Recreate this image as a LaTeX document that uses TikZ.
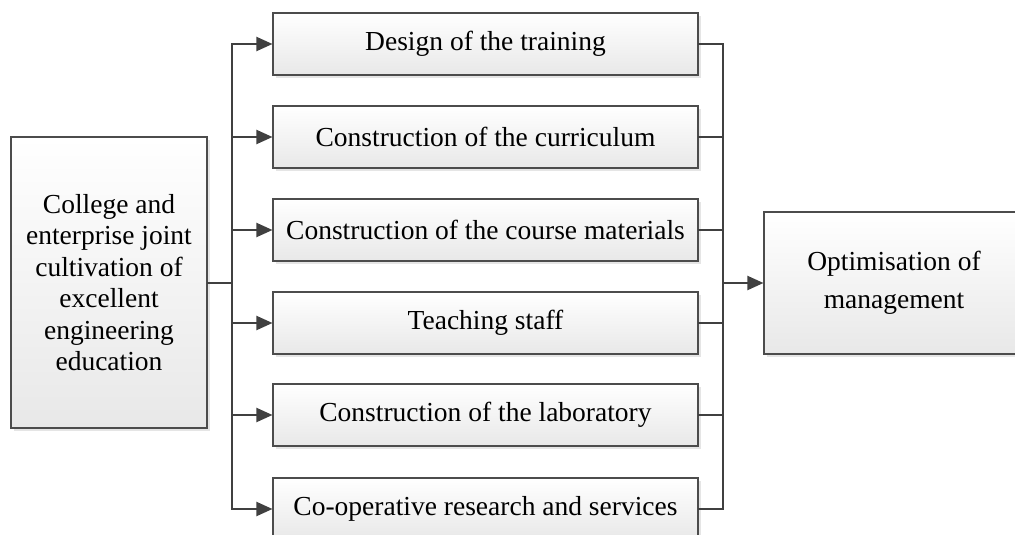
\documentclass[tikz,border=0pt]{standalone}
\usepackage{fontspec}
\setmainfont{Liberation Serif}
\usetikzlibrary{arrows.meta,shadows}
\begin{document}
\begin{tikzpicture}[x=1pt,y=-1pt,
  box/.style={draw=black!70, line width=1.1pt, top color=white, bottom color=black!9,
    drop shadow={shadow xshift=3pt,shadow yshift=-3pt,fill=black!20,opacity=0.5},
    inner sep=0pt, align=center, font=\fontsize{27.5}{31.5}\selectfont},
  midbox/.style={box, minimum width=425pt, minimum height=62pt},
  conn/.style={draw=black!75, line width=2pt, line cap=rect},
  arr/.style={conn, -{Triangle[length=16pt,width=14pt]}}
]
\useasboundingbox (0,0) rectangle (1015,535);
\node[box, minimum width=196pt, minimum height=291pt] (L) at (109,282.5)
  {College and\\enterprise joint\\cultivation of\\excellent\\engineering\\education};
\node[midbox] (b1) at (485.5,44) {Design of the training};
\node[midbox] (b2) at (485.5,137) {Construction of the curriculum};
\node[midbox] (b3) at (485.5,230) {Construction of the course materials};
\node[midbox] (b4) at (485.5,323) {Teaching staff};
\node[midbox] (b5) at (485.5,415) {Construction of the laboratory};
\node[midbox] (b6) at (485.5,509) {Co-operative research and services};
\node[box, minimum width=260pt, minimum height=142pt, font=\fontsize{27.5}{37.5}\selectfont] (R) at (894,283)
  {Optimisation of\\management};
\coordinate (lt) at (232,44);
\coordinate (lb) at (232,509);
\coordinate (rt) at (723,44);
\coordinate (rb) at (723,509);
\draw[conn] (L.east) -- (L.east -| lt);
\draw[conn] (lt) -- (lb);
\draw[conn] (rt) -- (rb);
\foreach \i in {1,...,6} {
  \draw[arr] (b\i.west -| lt) -- (b\i.west);
  \draw[conn] (b\i.east) -- (b\i.east -| rt);
}
\draw[arr] (R.west -| rt) -- (R.west);
\end{tikzpicture}
\end{document}
